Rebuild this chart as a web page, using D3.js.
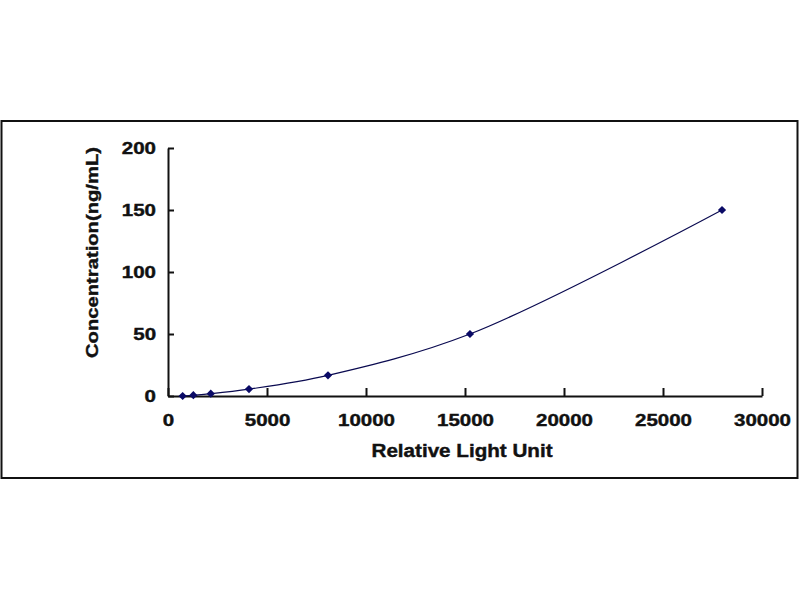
<!DOCTYPE html>
<html>
<head>
<meta charset="utf-8">
<script src="https://cdn.jsdelivr.net/npm/d3@7"></script>
<style>
  body { margin: 0; background: #fff; }
  text { font-family: "Liberation Sans", Arial, sans-serif; font-weight: bold; fill: #111; stroke: #111; stroke-width: 0.4px; }
</style>
</head>
<body>
<div class="canvas"></div>
<script>
// data
const rlu = [740, 1280, 2160, 4090, 8080, 15250, 27980];
const conc = [0, 0.62, 1.85, 5.56, 16.67, 50, 150];
const xTicks = [0, 5000, 10000, 15000, 20000, 25000, 30000];
const yTicks = [0, 50, 100, 150, 200];

const svg = d3.select(".canvas").append("svg")
    .attr("width", 800)
    .attr("height", 600);

//outer frame
svg.append("rect")
    .attr("x", 1.5).attr("y", 121)
    .attr("width", 796).attr("height", 357)
    .attr("fill", "none")
    .attr("stroke", "#111")
    .attr("stroke-width", 2);

//scales
const scaleX = d3.scaleLinear().domain([0, 30000]).range([168, 762]);
const scaleY = d3.scaleLinear().domain([0, 200]).range([396, 148]);

//stretch text a bit wider, like the original
const widen = (sel, k) => sel.each(function () {
  const w = this.getComputedTextLength();
  d3.select(this).attr("textLength", w * k).attr("lengthAdjust", "spacingAndGlyphs");
});

//axes
const xAxis = d3.axisBottom(scaleX)
    .tickValues(xTicks)
    .tickSizeInner(-8)
    .tickSizeOuter(0)
    .tickPadding(19)
    .tickFormat(d3.format("d"));
const yAxis = d3.axisLeft(scaleY)
    .tickValues(yTicks)
    .tickSizeInner(-6)
    .tickSizeOuter(0)
    .tickPadding(12)
    .tickFormat(d3.format("d"));

const xg = svg.append("g").attr("transform", "translate(0,396)").call(xAxis);
const yg = svg.append("g").attr("transform", "translate(168,0)").call(yAxis);

[xg, yg].forEach(g => {
  g.selectAll("path, line").attr("stroke", "#111").attr("stroke-width", 2);
  g.selectAll("text")
    .attr("font-size", 16)
    .attr("font-family", "Liberation Sans, Arial, sans-serif")
    .attr("fill", "#111")
    .call(widen, 1.28);
});

//axis titles
svg.append("text")
    .attr("x", 462).attr("y", 457)
    .attr("text-anchor", "middle")
    .attr("font-size", 18)
    .attr("textLength", 181)
    .attr("lengthAdjust", "spacingAndGlyphs")
    .text("Relative Light Unit");

svg.append("text")
    .attr("transform", "translate(98,252.5) rotate(-90)")
    .attr("text-anchor", "middle")
    .attr("font-size", 17)
    .attr("textLength", 211)
    .attr("lengthAdjust", "spacingAndGlyphs")
    .text("Concentration(ng/mL)");

//smoothed curve
const points = rlu.map((x, i) => [x, conc[i]]);
const line = d3.line()
    .x(d => scaleX(d[0]))
    .y(d => scaleY(d[1]))
    .curve(d3.curveCatmullRom);

svg.append("path")
    .datum(points)
    .attr("d", line)
    .attr("fill", "none")
    .attr("stroke", "#0a0a50")
    .attr("stroke-width", 1.2);

//diamond markers
svg.selectAll(".pt")
    .data(points)
    .enter()
    .append("path")
    .attr("class", "pt")
    .attr("d", d3.symbol().type(d3.symbolSquare).size(34))
    .attr("transform", d => `translate(${scaleX(d[0])},${scaleY(d[1])}) rotate(45)`)
    .attr("fill", "#0a0a66");
</script>
</body>
</html>
